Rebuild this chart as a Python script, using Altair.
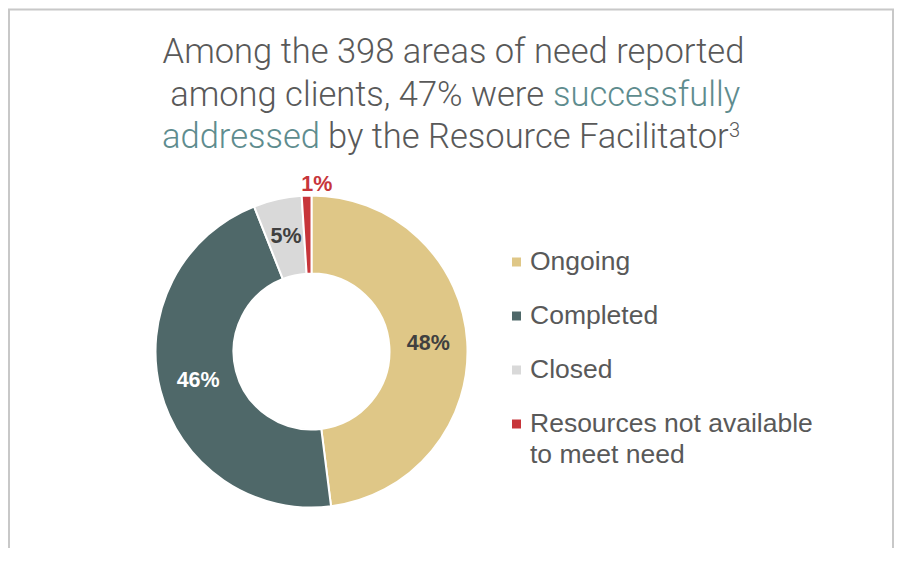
import altair as alt
import pandas as pd

# ---- data ----
categories = ["Ongoing", "Completed", "Closed", "Resources not available to meet need"]
legend_labels = ["Ongoing", "Completed", "Closed", "Resources not available\nto meet need"]
percents = [48, 46, 5, 1]
pct_labels = ["48%", "46%", "5%", "1%"]
colors = ["#DFC787", "#4F6869", "#D9D9D9", "#C7353A"]

title_line1 = "Among the 398 areas of need reported"
title_line2_plain = "among clients, 47% were"
title_line2_accent = "successfully"
title_line3_accent = "addressed"
title_line3_plain = "by the Resource Facilitator"
title_sup = "3"

GRAY = "#595959"
TEAL = "#5E8C8E"
RED = "#C7353A"

df = pd.DataFrame({
    "cat": categories,
    "label": legend_labels,
    "pct": percents,
    "txt": pct_labels,
    "idx": list(range(len(categories))),
})

CX, CY = 303.5, 343.5

color_scale = alt.Scale(domain=categories, range=colors)

arcs = alt.Chart(df).mark_arc(innerRadius=78, outerRadius=156, stroke="white", strokeWidth=2).encode(
    theta=alt.Theta("pct:Q", stack=True),
    order=alt.Order("idx:Q"),
    color=alt.Color("cat:N", scale=color_scale, legend=None),
    x=alt.value(CX), y=alt.value(CY),
)

pct_text = alt.Chart(df).transform_calculate(
    tc="datum.cat == 'Completed' ? '#FFFFFF' : (datum.pct < 2 ? '" + RED + "' : '#404040')",
    r="datum.pct < 2 ? 167 : 117",
).mark_text(font="Liberation Sans", fontSize=21.5, fontWeight="bold", baseline="middle", align="center").encode(
    theta=alt.Theta("pct:Q", stack=True),
    order=alt.Order("idx:Q"),
    radius=alt.Radius("r:Q", scale=None),
    text="txt:N",
    color=alt.Color("tc:N", scale=None),
    x=alt.value(CX), y=alt.value(CY),
)

leg_y = alt.Y("idx:Q", scale=alt.Scale(domain=[0, 3], range=[254, 416]), axis=None)

leg_sq = alt.Chart(df).mark_square(size=81, opacity=1).encode(
    x=alt.value(508.5), y=leg_y,
    color=alt.Color("cat:N", scale=color_scale, legend=None),
)

leg_txt = alt.Chart(df).mark_text(
    align="left", baseline="top", dy=-13, lineBreak="\n", lineHeight=31,
    font="Liberation Sans", fontSize=26.5, color=GRAY,
).encode(x=alt.value(522), y=leg_y, text="label:N")


def piece(txt, x, y, align, color, size=34.5, weight=300):
    return alt.Chart(pd.DataFrame({"t": [txt]})).mark_text(
        align=align, baseline="alphabetic", font="Roboto", fontSize=size,
        fontWeight=weight, color=color,
    ).encode(x=alt.value(x), y=alt.value(y), text="t:N")


titles = [
    piece(title_line1, 445.5, 55, "center", GRAY),
    piece(title_line2_plain, 536, 97.5, "right", GRAY),
    piece(title_line2_accent, 545, 97.5, "left", TEAL),
    piece(title_line3_accent, 312, 140, "right", TEAL),
    piece(title_line3_plain, 320, 140, "left", GRAY),
    piece(title_sup, 721, 129, "left", GRAY, size=20),
]

BORDER = "#C8C8C8"
bdata = pd.DataFrame({"k": [0]})
border_left = alt.Chart(bdata).mark_rule(color=BORDER, strokeWidth=2).encode(
    x=alt.value(1), y=alt.value(1), y2=alt.value(540))
border_top = alt.Chart(bdata).mark_rule(color=BORDER, strokeWidth=2).encode(
    x=alt.value(0), x2=alt.value(886), y=alt.value(1.5))
border_right = alt.Chart(bdata).mark_rule(color=BORDER, strokeWidth=2).encode(
    x=alt.value(885), y=alt.value(1), y2=alt.value(540))

chart = alt.layer(
    border_left, border_top, border_right,
    arcs, pct_text, leg_sq, leg_txt, *titles,
).properties(
    width=886, height=540, padding=0, autosize=alt.AutoSizeParams(type="none"),
    background="white",
).configure_view(strokeWidth=0)

chart.save("out.html", embed_options={"renderer": "svg", "actions": False})
